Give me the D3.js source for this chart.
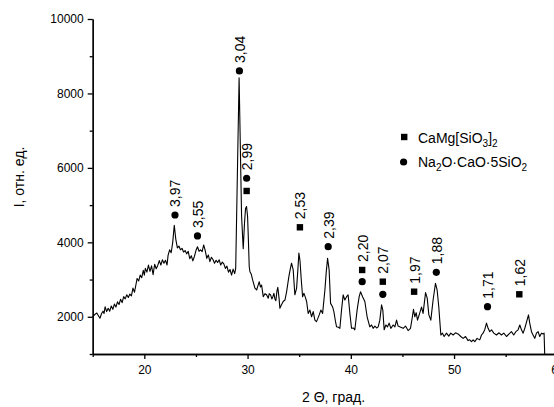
<!DOCTYPE html>
<html>
<head>
<meta charset="utf-8">
<script src="https://cdn.jsdelivr.net/npm/d3@7"></script>
<style>
  body { margin: 0; background: #fff; }
  svg { display: block; font-family: "Liberation Sans", Arial, sans-serif; }
  .axis path, .axis line { stroke: #000; stroke-width: 1.3; }
  .axis text { font-size: 12px; fill: #000; }
</style>
</head>
<body>
<svg width="554" height="407"></svg>
<script>
// diffraction pattern, 2 theta (deg) vs intensity
var angle = [
  15.0, 15.2, 15.4, 15.55, 15.7, 15.85, 16.0, 16.1, 16.2, 16.35, 16.5, 16.65, 16.8, 16.95, 17.1, 17.25,
  17.4, 17.55, 17.7, 17.85, 18.0, 18.15, 18.3, 18.45, 18.6, 18.75, 18.9, 19.05, 19.2, 19.3, 19.45, 19.6,
  19.75, 19.9, 20.0, 20.1, 20.25, 20.4, 20.55, 20.7, 20.85, 21.0, 21.15, 21.3, 21.45, 21.6, 21.75, 21.9,
  22.05, 22.2, 22.3, 22.45, 22.6, 22.75, 22.9, 23.05, 23.2, 23.35, 23.5, 23.65, 23.8, 23.95, 24.1, 24.25,
  24.4, 24.55, 24.7, 24.85, 25.0, 25.15, 25.3, 25.45, 25.6, 25.75, 25.9, 26.05, 26.2, 26.35, 26.5, 26.65,
  26.8, 26.95, 27.1, 27.25, 27.4, 27.55, 27.7, 27.85, 28.0, 28.15, 28.3, 28.45, 28.6, 28.75, 28.85, 28.94,
  29.18, 29.42, 29.58, 29.7, 29.8, 29.9, 30.0, 30.06, 30.16, 30.23, 30.35, 30.49, 30.71, 30.88, 31.0, 31.13,
  31.25, 31.36, 31.52, 31.68, 31.84, 32.0, 32.1, 32.23, 32.35, 32.45, 32.55, 32.65, 32.74, 32.85, 32.93, 33.05,
  33.13, 33.25, 33.45, 33.62, 33.78, 34.0, 34.15, 34.26, 34.42, 34.58, 34.75, 34.88, 34.97, 35.08, 35.2, 35.33,
  35.46, 35.6, 35.72, 35.87, 36.04, 36.2, 36.36, 36.52, 36.68, 36.8, 36.94, 37.1, 37.27, 37.49, 37.62, 37.75,
  37.9, 38.04, 38.23, 38.36, 38.5, 38.62, 38.8, 38.94, 39.1, 39.26, 39.42, 39.59, 39.74, 39.91, 40.07, 40.25,
  40.39, 40.61, 40.81, 40.94, 41.14, 41.36, 41.58, 41.84, 42.01, 42.16, 42.33, 42.5, 42.65, 42.81, 42.98, 43.1,
  43.23, 43.39, 43.56, 43.71, 43.88, 44.1, 44.27, 44.43, 44.58, 44.84, 45.07, 45.3, 45.55, 45.78, 45.94, 46.07,
  46.2, 46.33, 46.46, 46.62, 46.85, 47.0, 47.24, 47.4, 47.56, 47.75, 47.97, 48.2, 48.36, 48.52, 48.72, 48.88,
  49.04, 49.27, 49.49, 49.68, 49.91, 50.14, 50.39, 50.65, 50.88, 51.11, 51.36, 51.52, 51.69, 51.85, 52.01, 52.23,
  52.49, 52.66, 52.81, 52.98, 53.14, 53.3, 53.46, 53.63, 53.85, 54.11, 54.36, 54.59, 54.82, 55.08, 55.33, 55.56,
  55.78, 55.98, 56.2, 56.37, 56.53, 56.69, 56.85, 57.07, 57.21, 57.33, 57.5, 57.65, 57.82, 57.98, 58.14, 58.3,
  58.47, 58.62, 58.72, 58.78
];
var counts = [
  2000, 2060, 2100, 2030, 1960, 2080, 2150, 2090, 2270, 2140, 2230, 2150, 2290, 2200, 2340, 2260,
  2400, 2330, 2470, 2380, 2540, 2480, 2590, 2520, 2610, 2560, 2770, 2660, 2880, 3030, 2960, 3120,
  3050, 3250, 3120, 3300, 3200, 3390, 3220, 3370, 3130, 3410, 3290, 3380, 3510, 3390, 3530, 3440,
  3520, 3390, 3650, 3800, 3720, 4000, 4460, 4080, 3850, 3900, 3800, 3840, 3740, 3780, 3690, 3760,
  3560, 3640, 3500, 3620, 3780, 3880, 3760, 3800, 3750, 3930, 3780, 3570, 3660, 3480, 3600, 3540,
  3440, 3520, 3460, 3530, 3390, 3470, 3420, 3300, 3360, 3200, 3270, 3120, 3280, 3160, 3300, 4690,
  8420, 4700, 3830, 4500, 4900, 4960, 4700, 4240, 3350, 3210, 3150, 2990, 2770, 2720, 2830, 2940,
  2800, 2850, 2540, 2620, 2590, 2500, 2620, 2590, 2480, 2540, 2630, 2480, 2430, 2700, 2790, 2500,
  2230, 2300, 2410, 2450, 2670, 3080, 3300, 3440, 3260, 2590, 2770, 3300, 3710, 3500, 3000, 2540,
  2630, 2520, 2410, 2090, 2180, 2000, 2140, 1910, 1870, 1950, 2050, 2180, 2090, 2720, 3200, 3570,
  3260, 2360, 2270, 2140, 1900, 1730, 1720, 1690, 2180, 2590, 2450, 2540, 2590, 2090, 1690, 1700,
  1650, 2180, 2540, 2670, 2540, 2410, 2000, 1730, 1780, 1690, 1750, 1700, 1730, 1910, 2320, 2180,
  1650, 1780, 1730, 1830, 1690, 1780, 1730, 1910, 1750, 1720, 1690, 1750, 1630, 1690, 1960, 2200,
  2000, 2110, 1910, 2050, 2260, 2090, 2650, 2500, 2050, 1910, 2450, 2900, 2720, 2270, 1510, 1560,
  1470, 1560, 1480, 1560, 1510, 1570, 1540, 1470, 1420, 1470, 1360, 1380, 1330, 1380, 1330, 1420,
  1380, 1510, 1560, 1660, 1830, 1690, 1600, 1650, 1560, 1510, 1570, 1510, 1560, 1470, 1540, 1600,
  1510, 1600, 1650, 1780, 1650, 1560, 1690, 1910, 2050, 1830, 1600, 1510, 1420, 1560, 1600, 1470,
  1560, 1540, 1560, 1000
];

// identified reflections (d-spacing labels) and their marker heights
var peakLabels = ["3,97", "3,55", "3,04", "2,99", "2,53", "2,39", "2,20", "2,07", "1,97", "1,88", "1,71", "1,62"];
var peakAngles = [22.97, 25.15, 29.21, 29.91, 35.07, 37.81, 41.10, 43.10, 46.13, 48.28, 53.24, 56.32];
var squareAt   = [null, null, null, 5380, 4404, null, 3257, 2943, 2674, null, null, 2604];
var circleAt   = [4735, 4171, 8604, 5721, null, 3883, 2943, 2604, null, 3195, 2271, null];

var xMajor = [20, 30, 40, 50, 60];
var xMinor = [15, 25, 35, 45, 55];
var yMajor = [2000, 4000, 6000, 8000, 10000];
var yMinor = [1000, 3000, 5000, 7000, 9000];

var svg = d3.select("svg");

var x = d3.scaleLinear().domain([15, 60]).range([92.7, 557.3]);
var y = d3.scaleLinear().domain([1000, 10000]).range([354, 19]);

// axes
svg.append("g").attr("class", "axis")
    .attr("transform", "translate(0,354)")
    .call(d3.axisBottom(x).tickValues(xMinor).tickSize(3).tickSizeOuter(0).tickFormat(""));
svg.append("g").attr("class", "axis")
    .attr("transform", "translate(0,354)")
    .call(d3.axisBottom(x).tickValues(xMajor).tickSize(5).tickSizeOuter(0).tickPadding(6).tickFormat(d3.format("d")));

svg.append("g").attr("class", "axis")
    .attr("transform", "translate(92.7,0)")
    .call(d3.axisLeft(y).tickValues(yMinor).tickSize(3).tickSizeOuter(0).tickFormat(""));
svg.append("g").attr("class", "axis")
    .attr("transform", "translate(92.7,0)")
    .call(d3.axisLeft(y).tickValues(yMajor).tickSize(5).tickSizeOuter(0).tickPadding(4).tickFormat(d3.format("d")));

// pattern
var pts = angle.map(function (a, i) { return [a, counts[i]]; });
svg.append("path")
    .datum(pts)
    .attr("fill", "none")
    .attr("stroke", "#000")
    .attr("stroke-width", 1.1)
    .attr("stroke-linejoin", "round")
    .attr("d", d3.line().x(d => x(d[0])).y(d => y(d[1])));

// markers
var peaks = peakLabels.map(function (lab, i) {
    return { label: lab, a: peakAngles[i], sq: squareAt[i], ci: circleAt[i] };
});

svg.selectAll(".sq")
    .data(peaks.filter(d => d.sq != null))
    .enter().append("rect")
    .attr("x", d => x(d.a) - 3.2)
    .attr("y", d => y(d.sq) - 3.2)
    .attr("width", 6.4)
    .attr("height", 6.4)
    .attr("fill", "#000");

svg.selectAll(".ci")
    .data(peaks.filter(d => d.ci != null))
    .enter().append("circle")
    .attr("cx", d => x(d.a))
    .attr("cy", d => y(d.ci))
    .attr("r", 3.6)
    .attr("fill", "#000");

svg.selectAll(".lab")
    .data(peaks)
    .enter().append("text")
    .attr("transform", function (d) {
        var top = Math.max(d.sq || 0, d.ci || 0);
        return "translate(" + (x(d.a) + 5.5) + "," + (y(top) - 8) + ") rotate(-90)";
    })
    .attr("font-size", 14)
    .text(d => d.label);

// legend
var leg = svg.append("g");
leg.append("rect").attr("x", 401).attr("y", 133.8).attr("width", 6.4).attr("height", 6.4).attr("fill", "#000");
leg.append("circle").attr("cx", 403.6).attr("cy", 162).attr("r", 3.6).attr("fill", "#000");

var t1 = leg.append("text").attr("x", 418).attr("y", 143).attr("font-size", 14);
t1.append("tspan").text("CaMg[SiO");
t1.append("tspan").attr("font-size", 10).attr("dy", 4).text("3");
t1.append("tspan").attr("dy", -4).text("]");
t1.append("tspan").attr("font-size", 10).attr("dy", 4).text("2");

var t2 = leg.append("text").attr("x", 418).attr("y", 167).attr("font-size", 14);
t2.append("tspan").text("Na");
t2.append("tspan").attr("font-size", 10).attr("dy", 4).text("2");
t2.append("tspan").attr("dy", -4).text("O·CaO·5SiO");
t2.append("tspan").attr("font-size", 10).attr("dy", 4).text("2");

// axis titles
svg.append("text")
    .attr("x", 302).attr("y", 402)
    .attr("font-size", 14)
    .text("2 Θ, град.");

svg.append("text")
    .attr("transform", "translate(24,177) rotate(-90)")
    .attr("text-anchor", "middle")
    .attr("font-size", 14)
    .text("I, отн. ед.");
</script>
</body>
</html>
